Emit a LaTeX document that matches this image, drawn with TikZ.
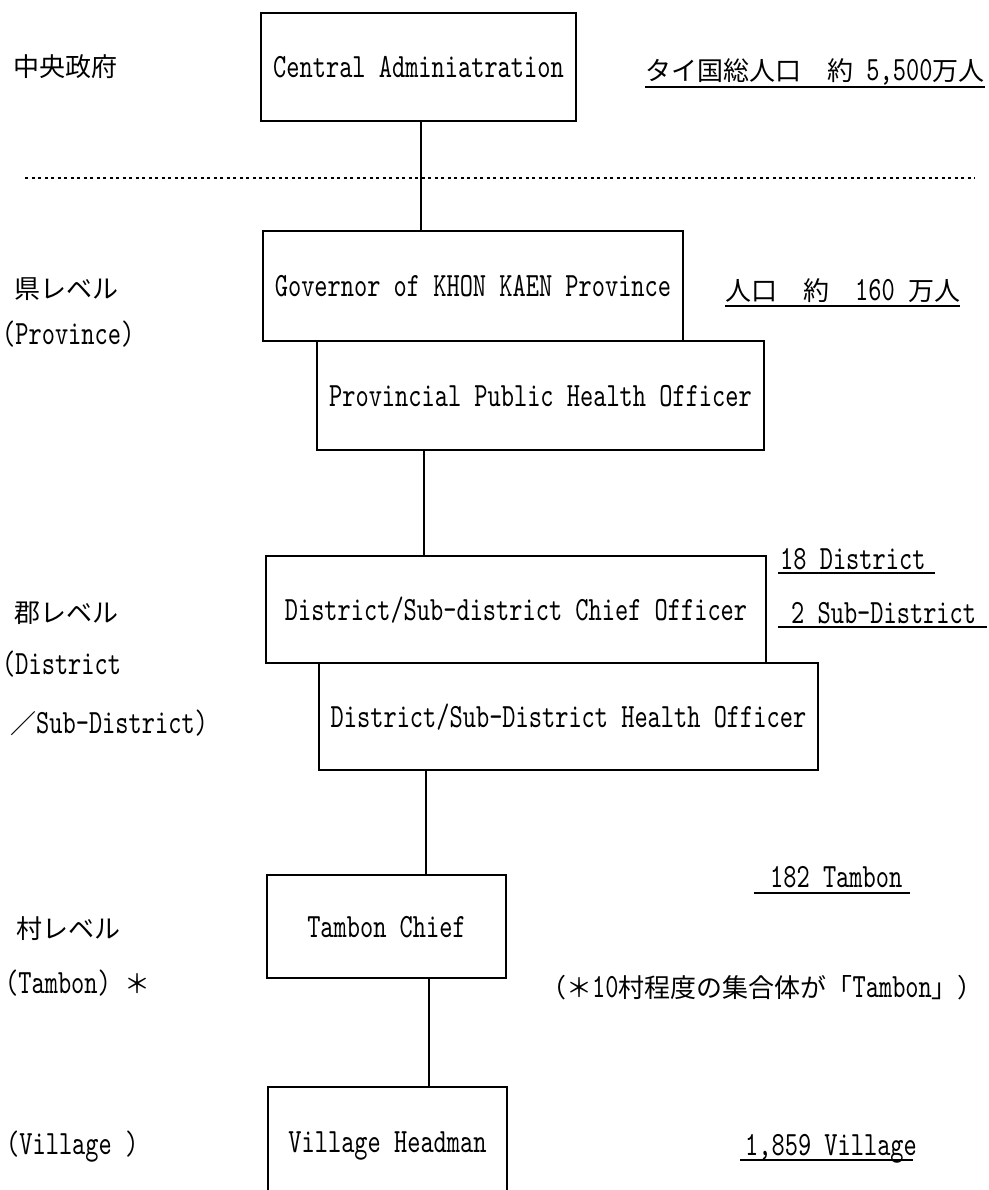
\documentclass[tikz,border=0pt]{standalone}
\usepackage{fontspec}
\newfontfamily\lat[FakeStretch=0.74]{lmmono10-regular.otf}
\newfontfamily\jpfont{Noto Sans CJK JP}
\newcommand\J[1]{{\fontsize{26}{30}\jpfont #1}}
\begin{document}
\begin{tikzpicture}[x=1pt,y=-1pt,
  box/.style={draw, line width=1.9pt, inner sep=0pt, text height=21pt, text depth=0pt,
    font=\fontsize{34}{40}\lat},
  txt/.style={inner sep=0pt, anchor=base west, font=\fontsize{34}{40}\lat},
  link/.style={line width=1.9pt},
  uline/.style={line width=1.4pt},
  sep/.style={line width=1.3pt, dash pattern=on 3pt off 3.5pt}]
\useasboundingbox (0,0) rectangle (988,1190);
\clip (0,0) rectangle (988,1190);
\fill[white] (0,0) rectangle (988,1190);

% boxes
\node[box, minimum width=315pt, minimum height=108pt] (central) at (418.5,67) {Central Adminiatration};
\node[box, minimum width=420pt, minimum height=110pt] (gov) at (473,286) {Governor of KHON KAEN Province};
\node[box, minimum width=447pt, minimum height=109pt] (prov) at (540.5,395.5) {Provincial Public Health Officer};
\node[box, minimum width=500pt, minimum height=107pt] (chief) at (516,609.5) {District/Sub-district Chief Officer};
\node[box, minimum width=499pt, minimum height=107pt] (health) at (568.5,716.5) {District/Sub-District Health Officer};
\node[box, minimum width=239pt, minimum height=103pt] (tambon) at (386.5,926.5) {Tambon Chief};
\node[box, minimum width=239pt, minimum height=110pt] (village) at (387.5,1142) {Village Headman};

% separator
\coordinate (sepL) at (25,178);
\coordinate (sepR) at (975,178);
\draw[sep] (sepL) -- (sepR);

% connectors
\coordinate (s1) at (421,0);
\coordinate (s2) at (424,0);
\coordinate (s3) at (426,0);
\coordinate (s4) at (429,0);
\draw[link] (central.south -| s1) -- (gov.north -| s1);
\draw[link] (prov.south -| s2) -- (chief.north -| s2);
\draw[link] (health.south -| s3) -- (tambon.north -| s3);
\draw[link] (tambon.south -| s4) -- (village.north -| s4);

% left labels
\node[txt] (l1) at (13,77) {\J{中央政府}};
\node[txt] (l2) at (14,298) {\J{県レベル}};
\node[txt] (l3) at (2,344) {(Province)};
\node[txt] (l4) at (14,622) {\J{郡レベル}};
\node[txt] (l5) at (2,674) {(District};
\node[txt] (l6) at (10,733) {\J{／}Sub-District)};
\node[txt] (l7) at (16,938) {\J{村レベル}};
\node[txt] (l8) at (5,993) {(Tambon) \J{＊}};
\node[txt] (l9) at (6,1154) {(Village )};

% right labels
\node[txt] (r1) at (645,81) {\J{タイ国総人口　約} 5,500\J{万人}};
\draw[uline] (645,87) -- (985,87);
\node[txt] (r2) at (725,300) {\J{人口　約　}160 \J{万人}};
\draw[uline] (725,306) -- (960,306);
\node[txt] (r3) at (780,569) {18 District};
\draw[uline] (778,573) -- (935,573);
\node[txt] (r4) at (791,623) {2 Sub-District};
\draw[uline] (778,627) -- (987,627);
\node[txt] (r5) at (770,887) {182 Tambon};
\draw[uline] (754,893) -- (910,893);
\node[txt] (r6) at (540,997) {\J{（＊}10\J{村程度の集合体が「}Tambon\J{」）}};
\node[txt] (r7) at (745,1155) {1,859 Village};
\draw[uline] (740,1160) -- (913,1160);
\end{tikzpicture}
\end{document}
